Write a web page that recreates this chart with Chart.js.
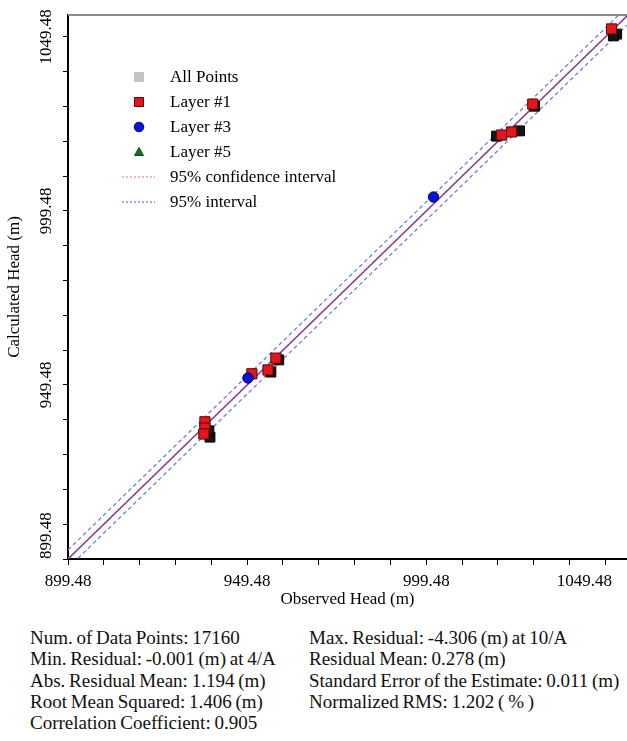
<!DOCTYPE html>
<html>
<head>
<meta charset="utf-8">
<script src="https://cdn.jsdelivr.net/npm/chart.js@4.4.1/dist/chart.umd.min.js"></script>
<style>
  body { margin: 0; background: #fff; }
  #wrap { position: relative; width: 627px; height: 741px; overflow: hidden; }
  #chart { position: absolute; left: 0; top: 0; }
  #stats { position: absolute; left: 0; top: 627px; width: 627px;
           font-family: "Liberation Serif", "Times New Roman", serif; font-size: 19px;
           color: #111; word-spacing: -1px; }
  #stats .row { position: relative; height: 21.3px; line-height: 21.3px; }
  #stats span { position: absolute; white-space: nowrap; }
  #stats .l { left: 30px; }
  #stats .r { left: 309px; }
</style>
</head>
<body>
<div id="wrap">
  <canvas id="chart" width="627" height="615"></canvas>
  <div id="stats"></div>
</div>
<script>
// axis ticks (every 10 m, labels every 50 m)
const xTicks = [899.48, 909.48, 919.48, 929.48, 939.48, 949.48, 959.48, 969.48,
  979.48, 989.48, 999.48, 1009.48, 1019.48, 1029.48, 1039.48, 1049.48];
const yTicks = [899.48, 909.48, 919.48, 929.48, 939.48, 949.48, 959.48, 969.48,
  979.48, 989.48, 999.48, 1009.48, 1019.48, 1029.48, 1039.48, 1049.48];
const tickLabels = [899.48, 949.48, 999.48, 1049.48];
const axisMin = 899.48;
const xAxisMax = 1055.5;
const yAxisMax = 1055.8;

// observed vs calculated heads (m)
const allObs  = [939.1, 938.8, 956.1, 958.3, 1019.1, 1025.5, 1029.7, 1052.6, 1051.7];
const allCalc = [934.5, 936.3, 953.2, 956.7, 1021.0, 1022.5, 1029.6, 1050.3, 1049.8];
const layer1Obs  = [937.7, 937.7, 937.4, 950.8, 955.3, 957.5, 1020.5, 1023.3, 1029.2, 1051.2];
const layer1Calc = [938.9, 937.1, 935.4, 952.7, 953.8, 957.2, 1021.3, 1022.2, 1030.2, 1051.8];
const layer3Obs  = [949.7, 1001.5];
const layer3Calc = [951.5, 1003.5];
const layer5Obs  = [];
const layer5Calc = [];

// fitted line and interval bands
const lineObs   = [899.48, 1055.5];
const fitCalc   = [899.48, 1055.5];
const confUpper = [899.7, 1055.7];
const confLower = [899.3, 1055.3];
const predUpper = [902.1, 1058.1];
const predLower = [896.9, 1052.9];

const statsLeft = ["Num. of Data Points: 17160", "Min. Residual: -0.001 (m) at 4/A",
  "Abs. Residual Mean: 1.194 (m)", "Root Mean Squared: 1.406 (m)", "Correlation Coefficient: 0.905"];
const statsRight = ["Max. Residual: -4.306 (m) at 10/A", "Residual Mean: 0.278 (m)",
  "Standard Error of the Estimate: 0.011 (m)", "Normalized RMS: 1.202 ( % )", ""];

const pts = (xs, ys) => xs.map((x, i) => ({ x: x, y: ys[i] }));
const serif = "Liberation Serif";

// stats block under the chart
const stats = document.getElementById("stats");
statsLeft.forEach((t, i) => {
  const row = document.createElement("div");
  row.className = "row";
  row.innerHTML = '<span class="l"></span><span class="r"></span>';
  row.children[0].textContent = t;
  row.children[1].textContent = statsRight[i];
  stats.appendChild(row);
});

// top frame line
const framePlugin = {
  id: "frame",
  beforeDatasetsDraw(chart) {
    const { ctx, chartArea } = chart;
    ctx.save();
    ctx.strokeStyle = "#8a8a8a";
    ctx.lineWidth = 2;
    ctx.beginPath();
    ctx.moveTo(chartArea.left, chartArea.top);
    ctx.lineTo(chartArea.right, chartArea.top);
    ctx.stroke();
    ctx.restore();
  }
};

// tick labels, kept inside the canvas like the original
const tickLabelPlugin = {
  id: "tickLabels",
  afterDraw(chart) {
    const { ctx, chartArea, scales } = chart;
    ctx.save();
    ctx.font = "17px " + serif;
    ctx.fillStyle = "#000";
    ctx.textAlign = "center";
    ctx.textBaseline = "middle";
    tickLabels.forEach(v => {
      const t = v.toFixed(2);
      const w = ctx.measureText(t).width;
      const px = Math.min(scales.x.getPixelForValue(v), chart.width - 15 - w / 2);
      ctx.fillText(t, px, chartArea.bottom + 23);
    });
    tickLabels.forEach(v => {
      const t = v.toFixed(2);
      const w = ctx.measureText(t).width;
      const py = Math.min(scales.y.getPixelForValue(v), chartArea.bottom - w / 2);
      ctx.save();
      ctx.translate(chartArea.left - 21, py);
      ctx.rotate(-Math.PI / 2);
      ctx.fillText(t, 0, 0);
      ctx.restore();
    });
    ctx.restore();
  }
};

// legend inside the plot
const legendPlugin = {
  id: "insideLegend",
  afterDraw(chart) {
    const { ctx } = chart;
    const items = chart.data.datasets.filter(d => d.legendRank !== undefined)
      .sort((a, b) => a.legendRank - b.legendRank);
    ctx.save();
    ctx.font = "17px " + serif;
    ctx.textBaseline = "middle";
    ctx.textAlign = "left";
    items.forEach((d, i) => {
      const y = 77 + i * 25;
      const cx = 139;
      ctx.setLineDash([]);
      if (d.showLine) {
        ctx.strokeStyle = d.legendColor || d.borderColor;
        ctx.lineWidth = 1.5;
        ctx.setLineDash([2, 2]);
        ctx.beginPath();
        ctx.moveTo(122, y);
        ctx.lineTo(155, y);
        ctx.stroke();
        ctx.setLineDash([]);
      } else {
        ctx.fillStyle = d.legendColor || d.backgroundColor;
        ctx.strokeStyle = d.legendBorder || d.borderColor;
        ctx.lineWidth = 1;
        ctx.beginPath();
        if (d.pointStyle === "circle") {
          ctx.arc(cx, y, 4.8, 0, Math.PI * 2);
        } else if (d.pointStyle === "triangle") {
          ctx.moveTo(cx, y - 4.5);
          ctx.lineTo(cx + 4.5, y + 3.5);
          ctx.lineTo(cx - 4.5, y + 3.5);
          ctx.closePath();
        } else {
          ctx.rect(cx - 4.5, y - 4.5, 9, 9);
        }
        ctx.fill();
        ctx.stroke();
      }
      ctx.fillStyle = "#000";
      ctx.fillText(d.label, 170, y + 1);
    });
    ctx.restore();
  }
};

const lineStyle = (color, dash, width) => ({
  showLine: true, pointRadius: 0, borderColor: color, borderWidth: width,
  borderDash: dash, backgroundColor: color, fill: false
});

new Chart(document.getElementById("chart"), {
  type: "scatter",
  data: {
    datasets: [
      { label: "Layer #3", legendRank: 2, data: pts(layer3Obs, layer3Calc), pointStyle: "circle",
        pointRadius: 5.2, backgroundColor: "#0b12d6", borderColor: "#03037a", borderWidth: 1 },
      { label: "Layer #1", legendRank: 1, data: pts(layer1Obs, layer1Calc), pointStyle: "rect",
        pointRadius: 7.2, backgroundColor: "#e2161d", borderColor: "#5c0404", borderWidth: 1 },
      { label: "Layer #5", legendRank: 3, data: pts(layer5Obs, layer5Calc), pointStyle: "triangle",
        pointRadius: 5, backgroundColor: "#1f6e1f", borderColor: "#0f4a0f", borderWidth: 1 },
      { label: "All Points", legendRank: 0, data: pts(allObs, allCalc), pointStyle: "rect",
        pointRadius: 7, backgroundColor: "#151515", borderColor: "#000", borderWidth: 1,
        legendColor: "#c4c4c4", legendBorder: "#c4c4c4" },
      Object.assign({ label: "95% confidence interval", legendRank: 4, data: pts(lineObs, confUpper),
        legendColor: "#f2a0a0" }, lineStyle("rgba(200,90,140,0.7)", [2, 2], 1)),
      Object.assign({ label: "confidence lower", data: pts(lineObs, confLower) },
        lineStyle("rgba(200,90,140,0.7)", [2, 2], 1)),
      Object.assign({ label: "95% interval", legendRank: 5, data: pts(lineObs, predUpper),
        legendColor: "#8c8ce8" }, lineStyle("#7a7ae6", [4, 3], 1.3)),
      Object.assign({ label: "interval lower", data: pts(lineObs, predLower) },
        lineStyle("#7a7ae6", [4, 3], 1.3)),
      Object.assign({ label: "fit", data: pts(lineObs, fitCalc) }, lineStyle("#6a3d92", [], 1.5))
    ]
  },
  options: {
    responsive: false,
    animation: false,
    events: [],
    layout: { autoPadding: false, padding: { top: 15, left: 0, right: 0, bottom: 0 } },
    plugins: { legend: { display: false }, tooltip: { enabled: false } },
    scales: {
      x: {
        type: "linear", position: "bottom", min: axisMin, max: xAxisMax,
        afterBuildTicks: s => { s.ticks = xTicks.map(v => ({ value: v })); },
        afterFit: s => { s.height = 56; s.paddingLeft = 0; s.paddingRight = 0; },
        ticks: { display: false },
        grid: { display: true, drawOnChartArea: false, drawTicks: true, tickLength: 6, tickColor: "#000", tickWidth: 1 },
        border: { display: true, color: "#000", width: 2 },
        title: { display: true, text: "Observed Head (m)", color: "#000",
          font: { family: serif, size: 17 }, padding: { top: 0, bottom: 5 } }
      },
      y: {
        type: "linear", position: "left", min: axisMin, max: yAxisMax,
        afterBuildTicks: s => { s.ticks = yTicks.map(v => ({ value: v })); },
        afterFit: s => { s.width = 68; s.paddingTop = 0; s.paddingBottom = 0; },
        ticks: { display: false },
        grid: { display: true, drawOnChartArea: false, drawTicks: true, tickLength: 5, tickColor: "#000", tickWidth: 1 },
        border: { display: true, color: "#000", width: 2 },
        title: { display: true, text: "Calculated Head (m)", color: "#000",
          font: { family: serif, size: 17 }, padding: { top: 4, bottom: 0 } }
      }
    }
  },
  plugins: [framePlugin, tickLabelPlugin, legendPlugin]
});
</script>
</body>
</html>
